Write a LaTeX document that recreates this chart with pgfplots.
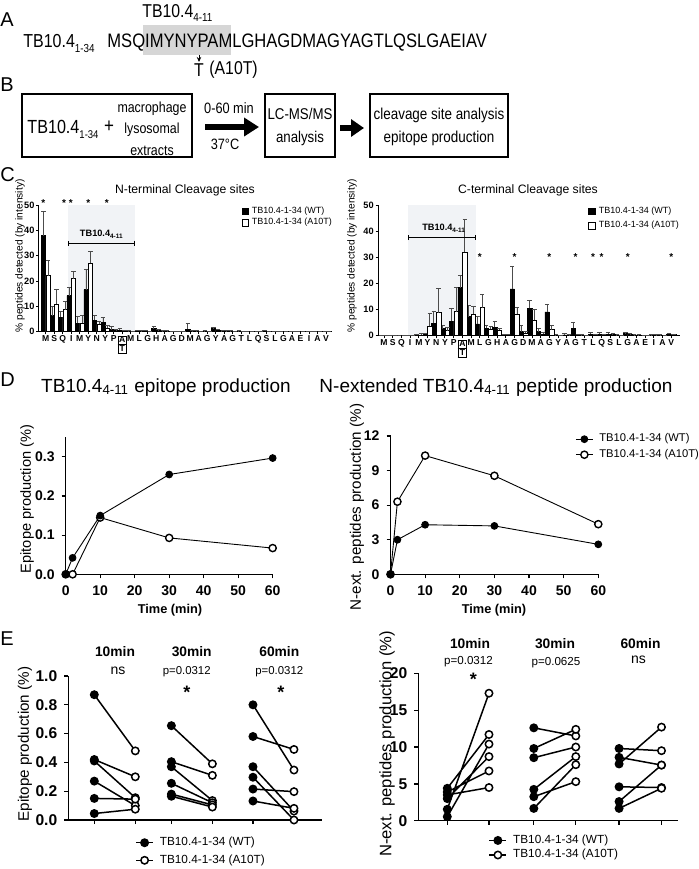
\documentclass[border=0pt]{standalone}
\usepackage{fontspec}
\setmainfont{Liberation Sans}
\newfontfamily\narrow{Liberation Sans}[FakeStretch=0.85]
\usepackage{pgfplots}
\pgfplotsset{compat=1.18}
\usepackage{pgfplotstable}
\usetikzlibrary{arrows.meta}
\newcommand\fs[1]{\fontsize{#1}{#1}\selectfont}
\newcommand\sub[3]{\raisebox{-#1}{\fs{#2}#3}}
\newcommand\AT{{\setlength{\tabcolsep}{0.5pt}\setlength{\arrayrulewidth}{0.3pt}\renewcommand{\arraystretch}{0.8}\begin{tabular}[t]{|c|}\hline A\\\hline T\\\hline\end{tabular}}}
\definecolor{shadec}{RGB}{241,243,246}
\definecolor{seqgray}{RGB}{214,214,214}

% N-terminal cleavage sites: index, WT, WT err, A10T, A10T err
\pgfplotstableread{
i wt wte mt mte
0 37.9 9.7 22.1 5.9
1 6.3 3.8 11.0 5.7
2 5.8 2.1 8.7 3.1
3 14.2 3.3 20.9 2.8
4 3.3 2.9 3.5 2.9
5 16.6 8.1 27.0 4.6
6 4.6 1.7 2.9 1.3
7 3.7 2.1 1.3 1.3
8 0.8 1.2 0.4 0.6
9 0.6 0.7 0.2 0.3
10 0.2 0.2 0.1 0.1
11 0.3 0.2 0.2 0.1
12 0.3 0.2 0.1 0.1
13 1.2 0.8 0.5 0.3
14 0.3 0.1 0.2 0.1
15 0.1 0.1 0.1 0.1
16 0.1 0.1 0.1 0.1
17 0.9 2.4 0.2 0.2
18 0.2 0.1 0.1 0.1
19 0.2 0.1 0.1 0.1
20 1.2 0.6 0.6 0.3
21 0.3 0.1 0.2 0.1
22 0.2 0.1 0.1 0.1
23 0.2 0.1 0.1 0.1
24 0.1 0.1 0.1 0.1
25 0.1 0.1 0.1 0.1
26 0.3 0.2 0.1 0.1
27 0.1 0.1 0.1 0.1
28 0.1 0.1 0.1 0.1
29 0.1 0.1 0.1 0.1
30 0.1 0.1 0.1 0.1
31 0.1 0.1 0.1 0.1
32 0.1 0.1 0.1 0.1
33 0.1 0.1 0.1 0.1
}\ntab

% C-terminal cleavage sites
\pgfplotstableread{
i wt wte mt mte
0 0 0 0 0
1 0 0 0 0
2 0 0 0 0
3 0.1 0.1 0.1 0.1
4 0.3 0.3 0.3 0.4
5 0.5 0.5 3.6 4.9
6 4.7 4.5 8.8 9.3
7 2.7 1.1 1.9 1.3
8 5.6 4.9 9.2 9.2
9 18.4 4.8 31.9 12.4
10 7.3 4.4 8.2 2.9
11 4.5 2.8 10.7 5.1
12 2.8 1.3 2.4 1.0
13 3.2 2.2 2.2 0.6
14 0.3 0.2 0.3 0.2
15 17.9 8.7 8.2 2.5
16 1.5 2.6 0.9 0.9
17 10.5 3.1 5.9 4.3
18 1.5 1.1 0.6 0.5
19 9.1 2.9 2.3 1.5
20 0.2 0.1 0.1 0.1
21 0.3 0.4 0.3 0.1
22 2.8 2.2 0.3 0.2
23 0.2 0.1 0.1 0.1
24 0.6 0.7 0.3 0.2
25 0.6 0.6 0.3 0.2
26 0.6 0.6 0.5 0.3
27 0.2 0.1 0.1 0.1
28 0.8 0.5 0.5 0.2
29 0.3 0.1 0.2 0.1
30 0.1 0.1 0.1 0.1
31 0.2 0.1 0.2 0.1
32 0.2 0.1 0.1 0.1
33 0.6 0.3 0.4 0.2
}\ctab

\pgfplotsset{
  gp/.style={anchor=south west, scale only axis, clip=false, enlargelimits=false,
    axis x line*=bottom, axis y line*=left, tick align=outside,
    axis line style={line width=0.6pt}, tick style={line width=0.6pt, black},
    /pgf/number format/assume math mode=true, scaled ticks=false},
  cbar/.style={gp, xmin=-0.8, xmax=33.7, ymin=0, ymax=50, ytick={0,10,20,30,40,50},
    xtick={0,...,33},
    xticklabels={M,S,Q,I,M,Y,N,Y,P,\AT,M,L,G,H,A,G,D,M,A,G,Y,A,G,T,L,Q,S,L,G,A,E,I,A,V},
    ybar, bar width=0.5, major tick length=1.3pt,
    axis line style={line width=0.5pt}, tick style={line width=0.5pt, black},
    x tick label style={font=\bfseries\fs{4.3}, inner sep=0.6pt},
    y tick label style={font=\bfseries\fs{4.6}, inner sep=0.8pt},
    legend cell align=left,
    legend style={draw=none, fill=none, font=\fs{4.5}, inner sep=0pt, row sep=1pt,
      nodes={inner sep=0pt}, /tikz/every odd column/.append style={column sep=1.6pt}},
    legend image code/.code={\draw[#1, line width=0.3pt] (0pt,-1.65pt) rectangle (3.3pt,1.65pt);}},
  wtbar/.style={fill=black, draw=black, line width=0.3pt, bar shift=-0.27,
    error bars/.cd, y dir=plus, y explicit,
    error bar style={line width=0.45pt, black!70},
    error mark options={rotate=90, mark size=1.1pt, line width=0.45pt, black!70}},
  mtbar/.style={fill=white, draw=black, line width=0.3pt, bar shift=0.27,
    error bars/.cd, y dir=plus, y explicit,
    error bar style={line width=0.45pt, black!70},
    error mark options={rotate=90, mark size=1.1pt, line width=0.45pt, black!70}},
  dline/.style={gp, xmin=0, xmax=60, xtick={0,10,20,30,40,50,60}, major tick length=2pt,
    tick label style={font=\bfseries\fs{7}}},
  wtD/.style={black, line width=0.45pt, mark=*, mark size=1.7pt, mark options={fill=black}},
  mtD/.style={black, line width=0.45pt, mark=*, mark size=1.8pt, mark options={fill=white, line width=0.7pt}},
  epair/.style={gp, major tick length=2pt, xticklabels={}, tick label style={font=\bfseries\fs{7.8}},
    axis line style={line width=0.65pt}, tick style={line width=0.65pt, black},
    legend cell align=left,
    legend style={draw=none, fill=none, font=\fs{5.9}, inner sep=0pt, row sep=3pt,
      nodes={inner sep=0pt}, /tikz/every odd column/.append style={column sep=3pt}},
    legend image code/.code={\draw[black, line width=0.75pt] (0pt,0pt) -- (8.5pt,0pt); \draw[#1] plot coordinates {(4.25pt,0pt)};}},
  eline/.style={black, line width=0.75pt, unbounded coords=jump, forget plot},
  wtE/.style={only marks, mark=*, mark size=1.85pt, black, line width=0.75pt, mark options={fill=black}},
  mtE/.style={only marks, mark=*, mark size=1.85pt, black, line width=0.75pt, mark options={fill=white}},
}

\begin{document}
\begin{tikzpicture}
\begin{scope}[x=0.5pt, y=-0.5pt]
\path[use as bounding box] (0,0) rectangle (697,869);
% ---------- panel letters
\foreach \L/\yy in {A/20, B/85, C/175, D/380, E/639}
  \node[anchor=west, inner sep=0pt, font=\fs{10}] at (0,\yy) {\L};
% ---------- panel A
\fill[seqgray] (143,25) rectangle (231,55);
\node[anchor=base west, inner sep=0pt, font=\narrow\fs{9.3}] at (142,17) {TB10.4\sub{2.2pt}{5.8}{4-11}};
\node[anchor=base west, inner sep=0pt, font=\narrow\fs{9.4}] at (23,47) {TB10.4\sub{2.5pt}{5.8}{1-34}};
\node[anchor=base west, inner sep=0pt, font=\narrow\fs{9.75}] at (107,47) {MSQIMYNYPAMLGHAGDMAGYAGTLQSLGAEIAV};
\draw[line width=0.5pt, -{Stealth[length=2.5pt,width=2.2pt]}] (199,55) -- (199,62);
\node[inner sep=0pt, font=\narrow\fs{9.3}] at (199,70) {T};
\node[anchor=west, inner sep=0pt, font=\narrow\fs{9.3}] at (209,70) {(A10T)};
% ---------- panel B
\draw[line width=0.55pt] (22,94) rectangle (192,157);
\draw[line width=0.55pt] (265,94) rectangle (335,157);
\draw[line width=0.55pt] (370,94) rectangle (508,157);
\node[anchor=base west, inner sep=0pt, font=\narrow\fs{9.5}] at (27,133) {TB10.4\sub{2.5pt}{5.6}{1-34}};
\node[inner sep=0pt, font=\narrow\fs{10}] at (109,127) {+};
\node[align=center, inner sep=0pt, font=\narrow\fontsize{7.3}{10.7}\selectfont] at (152,128.5) {macrophage\\lysosomal\\extracts};
\node[inner sep=0pt, font=\narrow\fs{7.5}] at (229,108) {0-60 min};
\node[inner sep=0pt, font=\narrow\fs{7.5}] at (225,144) {37°C};
\draw[line width=3.3pt, -{Triangle[length=7.5pt,width=9pt]}] (205,127) -- (259,127);
\node[align=center, inner sep=0pt, font=\narrow\fontsize{7.8}{11.5}\selectfont] at (300,126.5) {LC-MS/MS\\analysis};
\draw[line width=3pt, -{Triangle[length=6.5pt,width=8.5pt]}] (340,128) -- (364,128);
\node[align=center, inner sep=0pt, font=\narrow\fontsize{7.9}{11.5}\selectfont] at (439,126.5) {cleavage site analysis\\epitope production};
% ---------- panel C titles
\node[inner sep=0pt, font=\fs{6.1}] at (185,190) {N-terminal Cleavage sites};
\node[inner sep=0pt, font=\fs{6.1}] at (528,190) {C-terminal Cleavage sites};
\node[rotate=90, inner sep=0pt, font=\fs{5.1}] at (20,256) {\% peptides detected (by intensity)};
\node[rotate=90, inner sep=0pt, font=\fs{5.1}] at (352,256) {\% peptides detected (by intensity)};
% ---------- panel D titles and labels
\node[inner sep=0pt, anchor=base, font=\fs{9.5}] at (166,392) {TB10.4\textsubscript{4-11} epitope production};
\node[inner sep=0pt, anchor=base, font=\fs{9.5}] at (496,392) {N-extended TB10.4\textsubscript{4-11} peptide production};
\node[rotate=90, inner sep=0pt, font=\fs{7.3}] at (27,499) {Epitope production (\%)};
\node[rotate=90, inner sep=0pt, font=\fs{7.6}] at (357,507) {N-ext. peptides production (\%)};
\node[inner sep=0pt, font=\bfseries\fs{6.4}] at (170,610) {Time (min)};
\node[inner sep=0pt, font=\bfseries\fs{6.4}] at (494,610) {Time (min)};
% ---------- panel E texts
\node[rotate=90, inner sep=0pt, font=\fs{7.6}] at (25,744) {Epitope production (\%)};
\node[rotate=90, inner sep=0pt, font=\fs{8.3}] at (387,744) {N-ext. peptides production (\%)};
\foreach \xx/\tt in {115/10min, 191.7/30min, 279.3/60min}
  \node[inner sep=0pt, font=\bfseries\fs{6.9}] at (\xx,652) {\tt};
\node[inner sep=0pt, font=\fs{7}] at (118,671) {ns};
\node[inner sep=0pt, font=\fs{5.7}] at (186.7,672) {p=0.0312};
\node[inner sep=0pt, font=\fs{5.7}] at (279.3,672) {p=0.0312};
\node[inner sep=0pt, anchor=base, font=\bfseries\fs{9}] at (187,698) {*};
\node[inner sep=0pt, anchor=base, font=\bfseries\fs{9}] at (281,698) {*};
\foreach \xx/\tt in {470/10min, 555/30min, 640.5/60min}
  \node[inner sep=0pt, font=\bfseries\fs{6.9}] at (\xx,644) {\tt};
\node[inner sep=0pt, font=\fs{5.8}] at (468.5,662) {p=0.0312};
\node[inner sep=0pt, font=\fs{5.8}] at (556,663) {p=0.0625};
\node[inner sep=0pt, font=\fs{7}] at (638.5,659.5) {ns};
\node[inner sep=0pt, anchor=base, font=\bfseries\fs{9}] at (473.3,685) {*};
\end{scope}

% ================= C left: N-terminal
\begin{axis}[cbar, at={(19.5pt,-165.85pt)}, width=146.5pt, height=63.35pt,
  legend style={at={(0.69,0.99)}, anchor=north west}]
\fill[shadec] (axis cs:2.6,0) rectangle (axis cs:10.5,50);
\addplot[wtbar] table[x=i, y=wt, y error=wte] {\ntab};
\addplot[mtbar] table[x=i, y=mt, y error=mte] {\ntab};
\legend{TB10.4-1-34 (WT),TB10.4-1-34 (A10T)}
\draw[line width=0.5pt, {Bar[width=2.5pt]}-{Bar[width=2.5pt]}] (axis cs:2.6,35) -- (axis cs:10.5,35);
\node[anchor=base, inner sep=0pt, font=\bfseries\fs{4.6}] at (axis cs:6.6,37.6) {TB10.4\textsubscript{4-11}};
\pgfplotsinvokeforeach{-0.3,2.15,2.95,5.0,7.2}{
  \node[anchor=base, inner sep=0pt, font=\bfseries\fs{5}] at (axis cs:#1,49.4) {*};
}
\end{axis}

% ================= C right: C-terminal
\begin{axis}[cbar, at={(189.15pt,-167.85pt)}, width=150.85pt, height=65.35pt,
  xmin=-0.66, xmax=34, legend style={at={(0.695,0.99)}, anchor=north west, row sep=2.5pt}]
\fill[shadec] (axis cs:2.7,0) rectangle (axis cs:10.6,50);
\addplot[wtbar] table[x=i, y=wt, y error=wte] {\ctab};
\addplot[mtbar] table[x=i, y=mt, y error=mte] {\ctab};
\legend{TB10.4-1-34 (WT),TB10.4-1-34 (A10T)}
\draw[line width=0.5pt, {Bar[width=2.5pt]}-{Bar[width=2.5pt]}] (axis cs:2.7,37.5) -- (axis cs:10.6,37.5);
\node[anchor=base, inner sep=0pt, font=\bfseries\fs{4.6}] at (axis cs:6.9,40.1) {TB10.4\textsubscript{4-11}};
\pgfplotsinvokeforeach{11,15,19,22,24,25,28,33}{
  \node[anchor=base, inner sep=0pt, font=\bfseries\fs{5}] at (axis cs:#1,28.9) {*};
}
\end{axis}

% ================= D left
\begin{axis}[dline, at={(32.85pt,-287.15pt)}, width=103.5pt, height=68.5pt,
  ymin=0, ymax=0.35, ytick={0,0.1,0.2,0.3},
  yticklabel style={/pgf/number format/.cd, fixed, fixed zerofill, precision=1}]
\addplot[mtD] coordinates {(0,0) (2,0) (10,0.145) (30,0.093) (60,0.067)};
\addplot[wtD] coordinates {(0,0) (2,0.042) (10,0.15) (30,0.255) (60,0.297)};
\end{axis}

% ================= D right
\begin{axis}[dline, at={(195.25pt,-287.15pt)}, width=103.9pt, height=69.15pt,
  ymin=0, ymax=12, ytick={0,3,6,9,12},
  legend cell align=left, reverse legend,
  legend style={at={(0.888,1.02)}, anchor=north west, draw=none, fill=none, font=\fs{5.6}, inner sep=0pt, row sep=2.2pt,
    nodes={inner sep=0pt}, /tikz/every odd column/.append style={column sep=3pt}},
  legend image code/.code={\draw[mark repeat=2, mark phase=2, #1] plot coordinates {(0pt,0pt) (4.25pt,0pt) (8.5pt,0pt)};}]
\addplot[mtD] coordinates {(0,0) (2,6.3) (10,10.3) (30,8.55) (60,4.35)};
\addplot[wtD] coordinates {(0,0) (2,3.0) (10,4.3) (30,4.2) (60,2.6)};
\legend{TB10.4-1-34 (A10T),TB10.4-1-34 (WT)}
\end{axis}

% ================= E left
\begin{axis}[epair, at={(34.15pt,-410pt)}, width=126.7pt, height=72pt,
  xmin=-0.634, xmax=5.546, xtick={0,1,1.88,2.88,3.87,4.87},
  ymin=0, ymax=1, ytick={0,0.2,0.4,0.6,0.8,1},
  yticklabel style={/pgf/number format/.cd, fixed, fixed zerofill, precision=1},
  legend style={at={(0.263,-0.115)}, anchor=north west}]
\addplot[eline] coordinates {
 (0,0.87) (1,0.48) (0,nan) (0,0.42) (1,0.30) (0,nan) (0,0.41) (1,0.155) (0,nan)
 (0,0.27) (1,0.10) (0,nan) (0,0.15) (1,0.145) (0,nan) (0,0.045) (1,0.075) (0,nan)
 (1.88,0.655) (2.88,0.39) (0,nan) (1.88,0.405) (2.88,0.31) (0,nan) (1.88,0.37) (2.88,0.135) (0,nan)
 (1.88,0.255) (2.88,0.12) (0,nan) (1.88,0.18) (2.88,0.105) (0,nan) (1.88,0.165) (2.88,0.09) (0,nan)
 (3.87,0.80) (4.87,0.347) (0,nan) (3.87,0.58) (4.87,0.49) (0,nan) (3.87,0.37) (4.87,0.062) (0,nan)
 (3.87,0.297) (4.87,0.0) (0,nan) (3.87,0.215) (4.87,0.197) (0,nan) (3.87,0.132) (4.87,0.081)};
\addplot[wtE] coordinates {(0,0.87) (0,0.42) (0,0.41) (0,0.27) (0,0.15) (0,0.045)
 (1.88,0.655) (1.88,0.405) (1.88,0.37) (1.88,0.255) (1.88,0.18) (1.88,0.165)
 (3.87,0.80) (3.87,0.58) (3.87,0.37) (3.87,0.297) (3.87,0.215) (3.87,0.132)};
\addlegendentry{TB10.4-1-34 (WT)}
\addplot[mtE] coordinates {(1,0.48) (1,0.30) (1,0.155) (1,0.10) (1,0.145) (1,0.075)
 (2.88,0.39) (2.88,0.31) (2.88,0.135) (2.88,0.12) (2.88,0.105) (2.88,0.09)
 (4.87,0.347) (4.87,0.49) (4.87,0.062) (4.87,0.0) (4.87,0.197) (4.87,0.081)};
\addlegendentry{TB10.4-1-34 (A10T)}
\end{axis}

% ================= E right
\begin{axis}[epair, at={(209.15pt,-410.35pt)}, width=130pt, height=73.7pt,
  xmin=-0.69, xmax=5.5, xtick={0,0.993,2.06,3.06,4.09,5.1},
  ymin=0, ymax=20, ytick={0,5,10,15,20},
  legend style={at={(0.269,-0.092)}, anchor=north west, row sep=1.5pt}]
\addplot[eline] coordinates {
 (0,4.4) (0.993,11.7) (0,nan) (0,3.9) (0.993,6.75) (0,nan) (0,3.5) (0.993,4.5) (0,nan)
 (0,3.0) (0.993,8.7) (0,nan) (0,1.55) (0.993,17.3) (0,nan) (0,0.55) (0.993,10.4) (0,nan)
 (2.06,12.6) (3.06,11.5) (0,nan) (2.06,9.8) (3.06,12.4) (0,nan) (2.06,8.55) (3.06,10.0) (0,nan)
 (2.06,4.25) (3.06,8.7) (0,nan) (2.06,3.26) (3.06,5.3) (0,nan) (2.06,1.67) (3.06,7.6) (0,nan)
 (4.09,9.8) (5.1,9.5) (0,nan) (4.09,8.6) (5.1,7.55) (0,nan) (4.09,7.7) (5.1,12.7) (0,nan)
 (4.09,4.6) (5.1,4.5) (0,nan) (4.09,2.6) (5.1,7.55) (0,nan) (4.09,1.67) (5.1,4.4)};
\addplot[wtE] coordinates {(0,4.4) (0,3.9) (0,3.5) (0,3.0) (0,1.55) (0,0.55)
 (2.06,12.6) (2.06,9.8) (2.06,8.55) (2.06,4.25) (2.06,3.26) (2.06,1.67)
 (4.09,9.8) (4.09,8.6) (4.09,7.7) (4.09,4.6) (4.09,2.6) (4.09,1.67)};
\addlegendentry{TB10.4-1-34 (WT)}
\addplot[mtE] coordinates {(0.993,11.7) (0.993,6.75) (0.993,4.5) (0.993,8.7) (0.993,17.3) (0.993,10.4)
 (3.06,11.5) (3.06,12.4) (3.06,10.0) (3.06,8.7) (3.06,5.3) (3.06,7.6)
 (5.1,9.5) (5.1,7.55) (5.1,12.7) (5.1,4.5) (5.1,7.55) (5.1,4.4)};
\addlegendentry{TB10.4-1-34 (A10T)}
\end{axis}
\end{tikzpicture}
\end{document}
